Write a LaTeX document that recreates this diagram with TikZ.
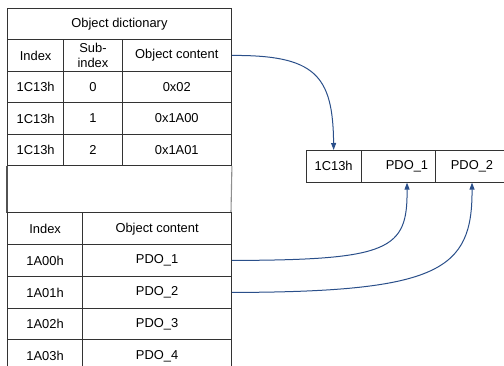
\documentclass[tikz,border=0pt]{standalone}
\usepackage{fontspec}
\setmainfont{Liberation Sans}
\usetikzlibrary{arrows.meta}
\definecolor{arrowblue}{HTML}{2A4F8A}
\definecolor{lineclr}{HTML}{333333}
\tikzset{
  cell/.style={draw=lineclr, line width=0.9pt, rectangle, inner sep=0pt, anchor=north west,
    font=\fontsize{12.9}{14.5}\selectfont, align=center},
  txt/.style={inner sep=0pt, font=\fontsize{12.9}{14.5}\selectfont},
  conn/.style={draw=arrowblue, line width=1pt},
  arr/.style={conn, -{Triangle[length=7pt,width=5pt]}},
  gapline/.style={draw=lineclr!85, line width=1.1pt, dash pattern=on 1.2pt off 0.8pt}
}
\begin{document}
\begin{tikzpicture}[x=1pt,y=-1pt]
\useasboundingbox (0,0) rectangle (504,366);
\clip (0,0) rectangle (504,366);
% upper table
\node[cell, minimum width=224pt, minimum height=31pt] (title) at (7,8) {Object dictionary};
\node[cell, minimum width=56.3pt, minimum height=32pt] (hidx) at (7,39) {Index};
\node[cell, minimum width=58.4pt, minimum height=32pt] (hsub) at (63.3,39) {Sub-\\index};
\node[cell, minimum width=109.3pt, minimum height=32pt] (hcont) at (121.7,39) {Object content};
\node[cell, minimum width=56.3pt, minimum height=31pt] (i0) at (7,71) {1C13h};
\node[cell, minimum width=58.4pt, minimum height=31pt] (s0) at (63.3,71) {0};
\node[cell, minimum width=109.3pt, minimum height=31pt] (c0) at (121.7,71) {0x02};
\node[cell, minimum width=56.3pt, minimum height=32pt] (i1) at (7,102) {1C13h};
\node[cell, minimum width=58.4pt, minimum height=32pt] (s1) at (63.3,102) {1};
\node[cell, minimum width=109.3pt, minimum height=32pt] (c1) at (121.7,102) {0x1A00};
\node[cell, minimum width=56.3pt, minimum height=31.5pt] (i2) at (7,134) {1C13h};
\node[cell, minimum width=58.4pt, minimum height=31.5pt] (s2) at (63.3,134) {2};
\node[cell, minimum width=109.3pt, minimum height=31.5pt] (c2) at (121.7,134) {0x1A01};
% gap with dotted sides
\draw[gapline] (i2.south west) -- (7,212.5);
\draw[gapline] (c2.south east) -- (231,212.5);
% lower table
\node[cell, minimum width=75.3pt, minimum height=31.5pt] (hidx2) at (7,212.5) {Index};
\node[cell, minimum width=148.7pt, minimum height=31.5pt] (hcont2) at (82.3,212.5) {Object content};
\node[cell, minimum width=75.3pt, minimum height=32pt] (a0) at (7,244) {1A00h};
\node[cell, minimum width=148.7pt, minimum height=32pt] (p1) at (82.3,244) {PDO\_1};
\node[cell, minimum width=75.3pt, minimum height=32pt] (a1) at (7,276) {1A01h};
\node[cell, minimum width=148.7pt, minimum height=32pt] (p2) at (82.3,276) {PDO\_2};
\node[cell, minimum width=75.3pt, minimum height=31.5pt] (a2) at (7,308) {1A02h};
\node[cell, minimum width=148.7pt, minimum height=31.5pt] (p3) at (82.3,308) {PDO\_3};
\node[cell, minimum width=75.3pt, minimum height=32pt] (a3) at (7,339.5) {1A03h};
\node[cell, minimum width=148.7pt, minimum height=32pt] (p4) at (82.3,339.5) {PDO\_4};
% right box
\node[cell, minimum width=55pt, minimum height=31.7pt] (r0) at (305.7,150) {1C13h};
\node[cell, minimum width=74.6pt, minimum height=31.7pt] (r1) at (360.7,150) {};
\node[cell, minimum width=74pt, minimum height=31.7pt] (r2) at (435.3,150) {};
\node[txt] (r1t) at (407,165.8) {PDO\_1};
\node[txt] (r2t) at (472,165.8) {PDO\_2};
% connectors
\draw[arr] (hcont.east) .. controls (315,55) and (333,75) .. (r0.south |- r0.north);
\draw[arr] (p1.east) .. controls (390,260) and (407.7,250) .. (r1t |- r1.south);
\draw[arr] (p2.east) .. controls (440,292) and (472.5,270) .. (r2t |- r2.south);
\end{tikzpicture}
\end{document}
